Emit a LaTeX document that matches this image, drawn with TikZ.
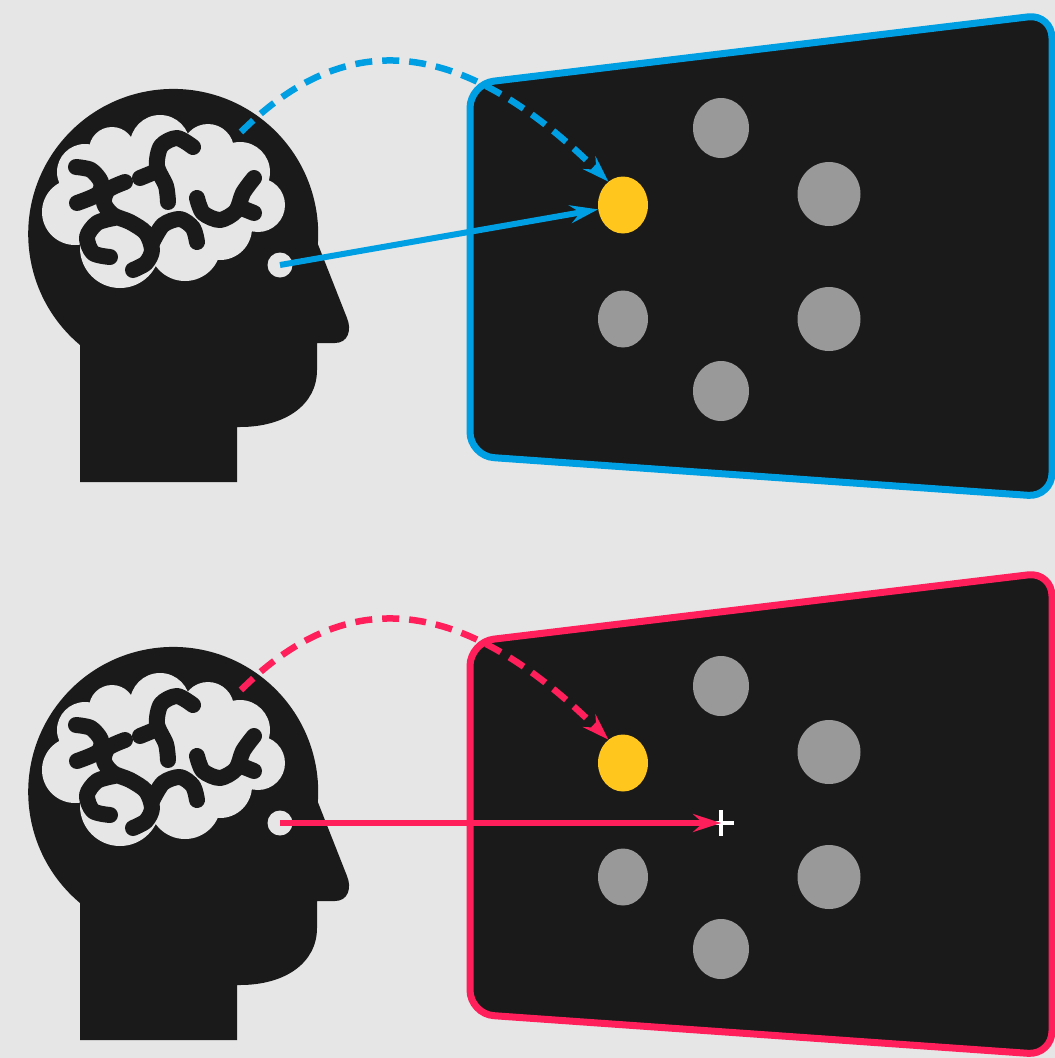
\documentclass[tikz,border=0pt]{standalone}
\usetikzlibrary{arrows.meta,shapes.geometric}
\definecolor{bgc}{HTML}{E6E6E6}
\definecolor{ink}{HTML}{1A1A1A}
\definecolor{skyblue}{HTML}{009FE3}
\definecolor{rosered}{HTML}{FF1F5B}
\definecolor{sun}{HTML}{FFC61E}
\definecolor{stone}{HTML}{999999}

\tikzset{
  % silhouette of a head with a brain inside
  thinker/.pic={
    \fill[ink] (80,482) -- (80,345) arc[start angle=130,end angle=364,radius=145]
      -- (347,318) .. controls (352,330) and (348,343) .. (335,343)
      -- (317,343) -- (317,370) .. controls (317,405) and (285,427) .. (240,427)
      -- (237,427) -- (237,482) -- cycle;
    \fill[bgc] (165,200) ellipse[x radius=95,y radius=60]
      (112,150) circle[radius=23] (160,145) circle[radius=30]
      (208,150) circle[radius=26] (240,172) circle[radius=30]
      (258,205) circle[radius=27] (220,228) circle[radius=32]
      (185,245) circle[radius=36] (120,248) circle[radius=40]
      (75,212) circle[radius=33] (85,172) circle[radius=28];
    \draw[fold] plot[smooth] coordinates {(76,167) (91,170) (101,182) (98,194) (77,203)};
    \draw[fold] plot[smooth] coordinates {(125,182) (108,190) (104,203) (113,215) (130,222) (146,233) (152,250) (146,263) (133,270)};
    \draw[fold] plot[smooth] coordinates {(110,257) (93,253) (87,237) (97,223) (114,218)};
    \draw[fold] plot[smooth] coordinates {(152,243) (163,225) (180,219) (193,228) (197,242)};
    \draw[fold] plot[smooth] coordinates {(193,147) (177,138) (161,146) (157,166) (166,186) (168,202)};
    \draw[fold] plot[smooth] coordinates {(140,178) (157,171)};
    \draw[fold] plot[smooth] coordinates {(197,198) (203,213) (220,220) (236,211) (243,193) (254,178)};
    \draw[fold] (239,207) -- (254,213);
  },
  fold/.style={ink, line width=16pt, line cap=round, line join=round},
  eyedot/.style={circle, fill=bgc, inner sep=0pt, minimum size=25pt},
  screen/.style={line width=7pt, fill=ink, rounded corners=24pt},
  target/.style={ellipse, inner sep=0pt, fill=sun, minimum width=50pt, minimum height=57pt},
  dotsmall/.style={ellipse, inner sep=0pt, fill=stone, minimum width=50pt, minimum height=57pt},
  dotmid/.style={ellipse, inner sep=0pt, fill=stone, minimum width=56pt, minimum height=60pt},
  dotbig/.style={ellipse, inner sep=0pt, fill=stone, minimum width=63pt, minimum height=64pt},
  gaze/.style={line width=6pt, -{Stealth[length=28pt,width=18pt,inset=10pt]}},
  intent/.style={line width=6.5pt, dash pattern=on 17pt off 10pt, -{Stealth[length=27pt,width=18pt,inset=10pt]}}
}

\begin{document}
\begin{tikzpicture}[x=1pt,y=-1pt]
  \fill[bgc] (0,0) rectangle (1055,1058);
  \useasboundingbox (0,0) rectangle (1055,1058);

  % ---------- upper panel: gaze lands on the intended target ----------
  \pic at (0,0) {thinker};
  \node[eyedot] (eyeA) at (280,265) {};
  \draw[screen, draw=skyblue] (470,84) -- (1052,14) -- (1052,497) -- (470,456) -- cycle;
  \node[dotmid]   (gA1) at (721,128) {};
  \node[dotbig]   (gA2) at (829,194) {};
  \node[target]   (yA)  at (623,205) {};
  \node[dotsmall] (gA3) at (623,319) {};
  \node[dotbig]   (gA4) at (829,319) {};
  \node[dotmid]   (gA5) at (721,391) {};
  \coordinate (mindA) at (241,132);
  \draw[gaze, skyblue] (eyeA.center) -- (yA);
  \draw[intent, skyblue] (mindA) .. controls (348,25) and (463,38) .. (yA.122);

  % ---------- lower panel: gaze rests on the fixation cross ----------
  \begin{scope}[shift={(0,558)}]
    \pic at (0,0) {thinker};
    \node[eyedot] (eyeB) at (280,265) {};
    \draw[screen, draw=rosered] (470,84) -- (1052,14) -- (1052,497) -- (470,456) -- cycle;
    \node[dotmid]   (gB1) at (721,128) {};
    \node[dotbig]   (gB2) at (829,194) {};
    \node[target]   (yB)  at (623,205) {};
    \node[dotsmall] (gB3) at (623,319) {};
    \node[dotbig]   (gB4) at (829,319) {};
    \node[dotmid]   (gB5) at (721,391) {};
    \coordinate (fixB) at (721,265);
    \draw[white, line width=3.5pt] (708,265) -- (734,265) (721,252) -- (721,278);
    \coordinate (mindB) at (241,132);
    \draw[gaze, rosered] (eyeB.center) -- (fixB);
    \draw[intent, rosered] (mindB) .. controls (348,25) and (463,38) .. (yB.122);
  \end{scope}
\end{tikzpicture}
\end{document}
